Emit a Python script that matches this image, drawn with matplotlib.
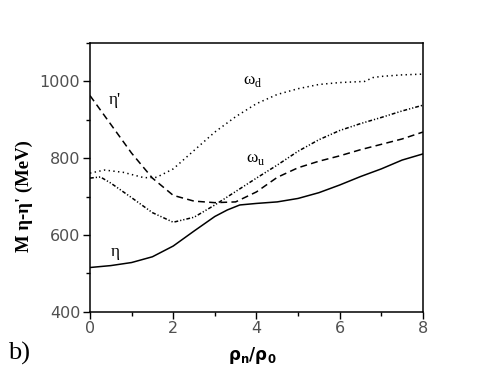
import matplotlib.pyplot as plt
from matplotlib.ticker import MultipleLocator

# eta (solid)
eta_x = [0, 0.5, 1, 1.5, 2, 2.5, 3, 3.3, 3.6, 4, 4.5, 5, 5.5, 6, 6.5, 7, 7.5, 8]
eta_m = [515, 520, 528, 543, 571, 610, 648, 665, 678, 682, 686, 695, 710, 730, 752, 772, 795, 811]

# eta' (dashed)
etap_x = [0, 0.5, 1, 1.5, 2, 2.5, 3, 3.5, 4, 4.5, 5, 5.5, 6, 6.5, 7, 7.5, 8]
etap_m = [963, 888, 813, 748, 703, 688, 684, 686, 712, 750, 775, 792, 806, 822, 836, 850, 868]

# omega_u (dash-dot-dot)
wu_x = [0, 0.25, 0.5, 1, 1.5, 2, 2.5, 3, 3.5, 4, 4.5, 5, 5.5, 6, 6.5, 7, 7.5, 8]
wu_m = [748, 751, 735, 697, 658, 633, 646, 678, 713, 748, 782, 818, 848, 872, 890, 906, 923, 938]

# omega_d (dotted)
wd_x = [0, 0.35, 0.8, 1.3, 1.6, 2, 2.5, 3, 3.5, 4, 4.5, 5, 5.5, 6, 6.6, 6.8, 7, 7.5, 8]
wd_m = [761, 769, 763, 749, 750, 772, 820, 868, 908, 942, 966, 981, 992, 997, 1000, 1010, 1013, 1017, 1019]

fig = plt.figure(figsize=(4.91, 3.71), dpi=100)
ax = fig.add_axes([0.1833, 0.16, 0.678, 0.724])

ax.plot(eta_x, eta_m, color='black', lw=1.1, linestyle='-')
ax.plot(etap_x, etap_m, color='black', lw=1.1, linestyle=(0, (4.5, 2.8)))
ax.plot(wu_x, wu_m, color='black', lw=1.1, linestyle=(0, (2.5, 1.3, 0.8, 1.3, 0.8, 1.3)))
ax.plot(wd_x, wd_m, color='black', lw=1.1, linestyle=(0, (0.9, 2.2)))

ax.set_xlim(0, 8)
ax.set_ylim(400, 1100)
ax.xaxis.set_major_locator(MultipleLocator(2))
ax.xaxis.set_minor_locator(MultipleLocator(1))
ax.yaxis.set_major_locator(MultipleLocator(200))
ax.yaxis.set_minor_locator(MultipleLocator(100))
ax.tick_params(which='major', direction='out', length=5, width=1, labelsize=11.5,
               labelcolor='#505050', pad=2)
ax.tick_params(which='minor', direction='out', length=3, width=1)
for s in ax.spines.values():
    s.set_linewidth(1.1)

serif = 'Liberation Serif'
ax.text(0.45, 940, "η'", fontsize=12.5, family=serif)
ax.text(0.5, 545, "η", fontsize=12.5, family=serif)
ax.text(3.68, 992, r"ω$_\mathregular{d}$", fontsize=12.5, family=serif)
ax.text(3.75, 791, r"ω$_\mathregular{u}$", fontsize=12.5, family=serif)

fig.text(0.05, 0.472, "M η-η' (MeV)", fontsize=13.5, family=serif, fontweight='bold',
         rotation=90, ha='center', va='center')
fig.text(0.514, 0.03, r"$\mathbf{\rho_n/\rho_0}$", fontsize=12, ha='center', va='baseline')
fig.text(0.016, 0.03, "b)", fontsize=19, family=serif)

fig.savefig('out.png', dpi=100)
